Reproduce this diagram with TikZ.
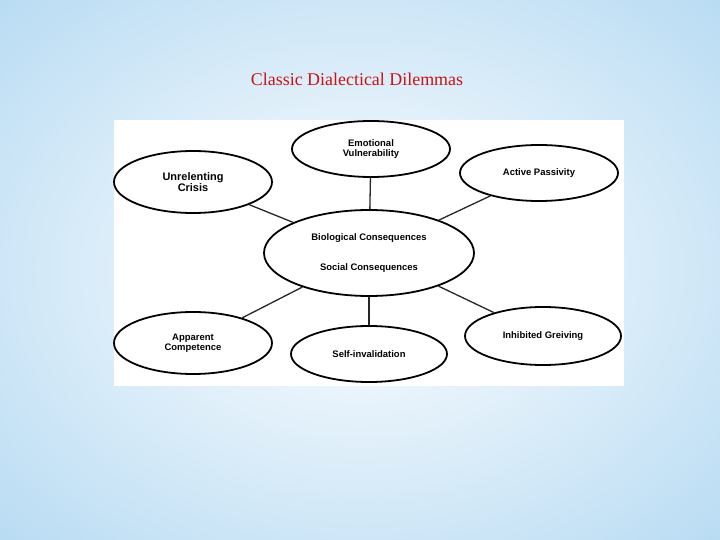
\documentclass[tikz,border=0pt]{standalone}
\usepackage{fontspec}
\setmainfont{Liberation Serif}
\newfontfamily\lab{Liberation Sans}
\usetikzlibrary{shapes.geometric}
\definecolor{bgblue}{RGB}{178,216,242}
\definecolor{titlered}{RGB}{200,20,20}
\tikzset{
  ell/.style={ellipse,draw=black,line width=1.8pt,fill=white,inner sep=0pt,align=center,font=\lab\bfseries\fontsize{9.5}{10.5}\selectfont},
  conn/.style={line width=1.3pt,draw=black!85}
}
\begin{document}
\begin{tikzpicture}[x=1bp,y=-1bp]
\useasboundingbox (0,0) rectangle (720,540);
\shade[inner color=white,outer color=bgblue] (-200,-150) rectangle (920,690);
\node[font=\fontsize{18}{21}\selectfont,text=titlered] (title) at (357,79) {Classic Dialectical Dilemmas};
\fill[white] (114,120) rectangle (624,386);
\node[ell,minimum width=210bp,minimum height=86bp] (c) at (369,253) {Biological Consequences\\[20bp]Social Consequences};
\node[ell,minimum width=158bp,minimum height=56bp] (ev) at (371,149) {Emotional\\Vulnerability};
\node[ell,minimum width=158bp,minimum height=62bp] (uc) at (193,182) {\fontsize{11}{12}\selectfont Unrelenting\\\fontsize{11}{12}\selectfont Crisis};
\node[ell,minimum width=158bp,minimum height=56bp] (ap) at (539,173) {Active Passivity};
\node[ell,minimum width=158bp,minimum height=62bp] (apc) at (193,343) {Apparent\\Competence};
\node[ell,minimum width=156bp,minimum height=56bp] (si) at (369,354) {Self-invalidation};
\node[ell,minimum width=156bp,minimum height=58bp] (ig) at (543,336) {Inhibited Greiving};
\draw[conn] (c) -- (ev);
\draw[conn] (c) -- (uc);
\draw[conn] (c) -- (ap);
\draw[conn] (c) -- (apc);
\draw[conn] (c) -- (si);
\draw[conn] (c) -- (ig);
\end{tikzpicture}
\end{document}
